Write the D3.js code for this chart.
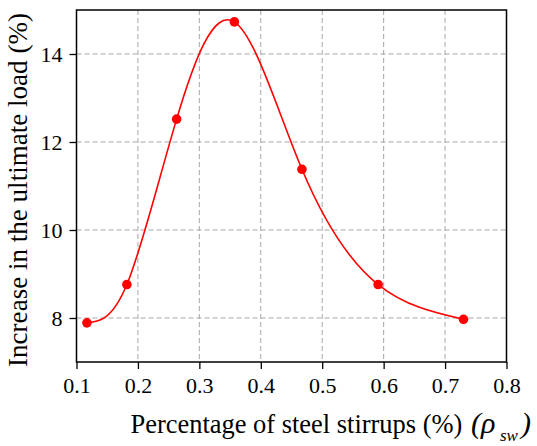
<!DOCTYPE html>
<html>
<head>
<meta charset="utf-8">
<script src="https://cdn.jsdelivr.net/npm/d3@7"></script>
</head>
<body style="margin:0;padding:0;background:#fff">
<svg id="chart" width="537" height="446"></svg>
<script>
const xValues = [0.117, 0.182, 0.263, 0.357, 0.467, 0.591, 0.730];
const yValues = [7.89, 8.76, 12.52, 14.73, 11.38, 8.76, 7.97];
const xTicks = [0.1, 0.2, 0.3, 0.4, 0.5, 0.6, 0.7, 0.8];
const yTicks = [8, 10, 12, 14];
const xTitle = "Percentage of steel stirrups (%)";
const yTitle = "Increase in the ultimate load (%)";

const FONT = "Liberation Serif";
const svg = d3.select("#chart");
const m = { left: 76.5, right: 506.5, top: 10, bottom: 362 };

const x = d3.scaleLinear().domain([0.1, 0.8]).range([m.left, m.right]);
const y = d3.scaleLinear().domain([7, 15]).range([m.bottom, m.top]);

function serif(sel, size) {
  sel.attr("font-family", FONT).attr("font-size", size)
     .style("font-family", FONT).style("font-size", size + "px");
  return sel;
}

// grid
const grid = svg.append("g").attr("stroke", "#a6a6a6").attr("stroke-width", 1).attr("stroke-dasharray", "5,3");
grid.selectAll("line.vx").data(xTicks.slice(1, -1)).join("line")
  .attr("x1", d => x(d)).attr("x2", d => x(d)).attr("y1", m.top).attr("y2", m.bottom);
grid.selectAll("line.hy").data(yTicks).join("line")
  .attr("x1", m.left).attr("x2", m.right).attr("y1", d => y(d)).attr("y2", d => y(d));

// axes
const xAxis = d3.axisBottom(x).tickValues(xTicks).tickFormat(d3.format(".1f")).tickSizeOuter(0).tickSizeInner(7).tickPadding(8);
const yAxis = d3.axisLeft(y).tickValues(yTicks).tickFormat(d3.format("d")).tickSizeOuter(0).tickSizeInner(7).tickPadding(7);

const gx = svg.append("g").attr("transform", `translate(0,${m.bottom})`).call(xAxis);
const gy = svg.append("g").attr("transform", `translate(${m.left},0)`).call(yAxis);
[gx, gy].forEach(g => {
  serif(g, 22);
  serif(g.selectAll("text"), 22).attr("fill", "#000");
  g.selectAll("line").attr("stroke", "#000").attr("stroke-width", 1.3);
  g.select(".domain").remove();
});

// frame
svg.append("rect").attr("x", m.left).attr("y", m.top)
  .attr("width", m.right - m.left).attr("height", m.bottom - m.top)
  .attr("fill", "none").attr("stroke", "#000").attr("stroke-width", 1.5);

// curve
const pts = xValues.map((v, i) => [v, yValues[i]]);
const line = d3.line().x(d => x(d[0])).y(d => y(d[1])).curve(d3.curveNatural);
svg.append("path").attr("d", line(pts)).attr("fill", "none").attr("stroke", "#ff0000").attr("stroke-width", 1.6);

svg.selectAll("circle.pt").data(pts).join("circle")
  .attr("cx", d => x(d[0])).attr("cy", d => y(d[1])).attr("r", 4.8).attr("fill", "#ff0000");

// fit font size to a target width
function fitText(sel, target) {
  const w = sel.node().getComputedTextLength();
  const fs = +sel.attr("font-size");
  serif(sel, +(fs * target / w).toFixed(2));
}

// x title
const xt = serif(svg.append("text").attr("x", 130.5).attr("y", 433), 22).attr("fill", "#000").text(xTitle);
fitText(xt, 332);
const sym = svg.append("g").attr("fill", "#000");
serif(sym.append("text").attr("x", 471).attr("y", 433), 30).attr("font-style", "italic").text("(ρ");
serif(sym.append("text").attr("x", 500).attr("y", 441), 17).attr("font-style", "italic").text("sw");
serif(sym.append("text").attr("x", 521).attr("y", 433), 30).attr("font-style", "italic").text(")");

// y title
const yt = serif(svg.append("text")
  .attr("transform", `translate(27,190) rotate(-90)`)
  .attr("text-anchor", "middle"), 22).attr("fill", "#000").text(yTitle);
fitText(yt, 354);
</script>
</body>
</html>
